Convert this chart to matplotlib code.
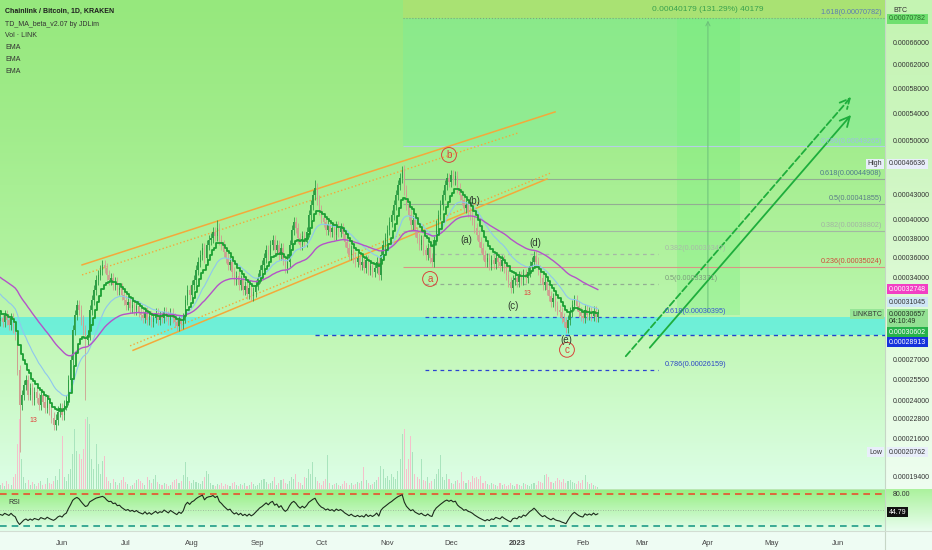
import numpy as np
import pandas as pd
import matplotlib
matplotlib.use("Agg")
import matplotlib.pyplot as plt
from matplotlib.patches import Rectangle
from matplotlib.lines import Line2D
from matplotlib.ticker import NullLocator
from datetime import date

plt.rcParams["font.family"] = ["Liberation Sans", "DejaVu Sans"]

W, H = 932, 550
SAT = 1e-8
start = date(2022, 5, 3)

# daily closes LINK/BTC in satoshi, 2022-05-03 .. 2023-02-08
close_sats = [
    30340, 29990, 30600, 30160, 29740, 30340, 29490, 28910,
    26190, 23730, 24410, 25110,
    25470, 24410, 24900, 24070, 24620,
    24200, 23730, 24410, 23940, 23530, 24070, 23400, 22880,
    22430, 22750, 23270, 23530, 23070, 23730, 24070,
    25470, 26950, 29320, 30600, 31470, 31030, 30160, 29320, 28510,
    28910, 31030, 31920, 32830, 33770, 34250, 34740, 35230, 34930, 34250,
    33770, 33960, 33300, 33580, 32830, 33020,
    32370, 31920, 31470, 31740, 31200, 31470, 31030, 31380, 30860,
    30600, 30340, 30860, 30160, 30510, 29990, 30340, 30690, 30160, 30510,
    30340, 30860, 30510, 30160, 30690, 30340, 29990, 29660, 30160, 29820,
    30340, 31920, 32830, 32370, 33300,
    33770, 34740, 35530, 36230, 36960, 35930, 37270, 37800,
    38010, 38670, 38230, 39110, 37800,
    37270, 36540, 35930, 35230, 35530, 34540, 33770, 34150,
    33300, 33770, 32830, 33210, 32460, 33020, 32280, 32650,
    33300, 33960, 34740, 35230, 35930, 36750, 36230, 37270,
    37800, 36750, 37270, 36230, 36960, 35730, 34930, 35530,
    37270, 38890, 39780, 39110, 38010, 37270, 38230, 37590, 38670,
    40570, 41730, 42930, 43790, 42320, 41150, 40230,
    39780, 38890, 39440, 38670, 39110, 38340, 39330, 38670, 39110, 38450,
    37590, 36960, 36230, 36750, 35930, 35530,
    35930, 35230, 35530, 34930, 35730, 34740, 35130, 34540, 34930, 35530, 34250,
    36230, 37270, 38010, 38890, 39780, 40570,
    41730, 42930, 44160, 45030, 46070, 43540,
    41730, 40570, 39440, 40000, 38670,
    38010, 37270, 37800, 36750, 36230, 36960, 35930, 35530,
    37800, 39440, 40570, 41730, 42930,
    44160, 45030, 44530, 45420, 44780, 45290, 43790,
    42930, 42320, 41380, 41730, 40910,
    40570, 40000, 39110, 38340, 37590,
    36960, 36230, 35530, 35930, 35230,
    35730, 35330, 35930, 35530, 35130, 35730,
    34930, 34250, 33580, 33020, 33770,
    33960, 33580, 34150, 33770, 34350, 33960, 34540, 35130,
    35530, 36130, 35530,
    34740, 33960, 33300, 33580,
    32830, 32280, 31740, 32100, 31380, 31030, 30860,
    30340, 29990, 29490, 30160,
    30860, 31470, 31920, 31380,
    30860, 30510, 30340, 31030, 30600,
    30860, 30510, 30950, 30430, 30657,
]
first_open = 30100
# wick extremes that stand out
low_fix = {9: 20762, 40: 24070}
high_fix = {102: 40000, 148: 44780, 189: 46636}

# volume (thousand LINK, arbitrary scale)
vol_k = [
    40, 60, 30, 80, 50, 40, 120, 150, 450, 700,
    300, 120, 60, 90, 40, 70, 50, 30, 60, 80,
    40, 50, 110, 60, 50, 80, 130, 90, 200, 530,
    120, 80, 150, 200, 350, 600, 380, 350, 300, 400,
    700, 720, 650, 300, 200, 450, 250, 150, 280, 330,
    120, 80, 60, 100, 70, 40, 60, 90, 120, 70,
    50, 30, 40, 60, 90, 100, 80, 60, 40, 120,
    90, 60, 100, 140, 70, 50, 40, 60, 50, 30,
    40, 70, 90, 100, 60, 80, 140, 270, 120, 80,
    60, 90, 70, 60, 50, 80, 120, 180, 150, 60,
    40, 30, 50, 40, 60, 30, 50, 40, 30, 60,
    70, 40, 30, 50, 40, 60, 30, 40, 70, 50,
    30, 40, 60, 90, 100, 70, 50, 60, 80, 120,
    40, 60, 90, 100, 60, 50, 80, 120, 100, 150,
    70, 60, 40, 120, 110, 200, 150, 270, 120, 80,
    60, 40, 80, 100, 340, 60, 40, 50, 60, 40,
    30, 50, 80, 60, 40, 60, 40, 50, 70, 60,
    80, 220, 90, 60, 40, 50, 70, 90, 120, 230,
    200, 110, 130, 90, 150, 120, 100, 180, 300, 550,
    600, 200, 300, 530, 370, 150, 120, 100, 300, 90,
    80, 120, 60, 80, 100, 150, 200, 340, 120, 90,
    150, 100, 60, 50, 80, 90, 60, 170, 80, 60,
    90, 70, 130, 110, 120, 100, 130, 60, 80, 50,
    40, 60, 50, 40, 30, 60, 40, 50, 30, 40,
    60, 40, 30, 50, 40, 30, 60, 50, 40, 30,
    50, 60, 40, 80, 70, 60, 140, 150, 120, 70,
    60, 80, 110, 90, 70, 100, 60, 80, 90, 70,
    60, 50, 80, 60, 90, 140, 70, 50, 60, 40,
    30, 20,
]

# EMA values at the left edge of the chart (history before the window)
seed_green, seed_blue, seed_purple = 31030, 32650, 34150
rsi_seed_gain, rsi_seed_loss = 300, 450

# channel lines: (day, sats) -> (day, sats)
chan_upper = ((38.4, 35230), (260.9, 54270))
chan_upper_dot = ((38.4, 34250), (243.5, 51140))
chan_lower = ((62.4, 27680), (257.1, 44910))
chan_lower_dot = ((61.0, 28030), (258.5, 45640))

# fib extension (right side)
fib1_start = 189.4
fib1_levels = [70782, 49265, 44908, 41855, 38802, 35024]
fib1_names = ["1.618", "0.786", "0.618", "0.5", "0.382", "0.236"]
fib1_line = ["#7fa878", "#b4cfe6", "#93ad93", "#93ad93", "#a3b8a3", "#d99585"]
fib1_text = ["#5b7db3", "#9fbde6", "#4e7b8c", "#5a7a88", "#a3b4a3", "#d04a3a"]
fib2_range = (199.7, 309.3)
fib2_levels = [36347, 33371, 30395, 26159]
fib2_names = ["0.382", "0.5", "0.618", "0.786"]
fib2_line = ["#a6b8a6", "#93ad93", "#3150d0", "#2b44d0"]
fib2_text = ["#a8baa8", "#7d9d7d", "#3a58cf", "#2c46c4"]
zero_level, zero_start = 28913, 148.0

# price range tool
meas_days = (318.3, 347.9)
meas_line_day = 332.8
meas_from, meas_to = 30603, 70782

# wave labels
wave_text = ["b", "a", "c", "(a)", "(b)", "(c)", "(d)", "(e)"]
wave_circ = [True, True, True, False, False, False, False, False]
wave_days = [211.0, 202.1, 266.5, 219.0, 222.8, 241.1, 251.5, 266.0]
wave_sats = [48060, 33860, 27720, 37800, 42200, 31370, 37480, 28510]
td13_days = [15.3, 247.7]
td13_sats = [22690, 32460]

arrow_solid = ((304.6, 27720), (401.0, 54120))
arrow_dashed = ((293.3, 27060), (401.0, 56940))

price_ticks = [66000, 62000, 58000, 54000, 50000, 43000, 40000, 38000, 36000,
               34000, 27000, 25500, 24000, 22800, 21600, 19400]
month_labels = ["Jun", "Jul", "Aug", "Sep", "Oct", "Nov", "Dec", "2023",
                "Feb", "Mar", "Apr", "May", "Jun"]
month_dates = [date(2022, 6, 1), date(2022, 7, 1), date(2022, 8, 1), date(2022, 9, 1),
               date(2022, 10, 1), date(2022, 11, 1), date(2022, 12, 1), date(2023, 1, 1),
               date(2023, 2, 1), date(2023, 3, 1), date(2023, 4, 1), date(2023, 5, 1),
               date(2023, 6, 1)]

legend_lines = ["TD_MA_beta_v2.07 by JDLim", "Vol \u00b7 LINK", "EMA", "EMA", "EMA"]


def fx(px):
    return px / W


def fy(py):
    return 1 - py / H


def ema(vals, span, seed):
    s = pd.Series(np.r_[seed, vals])
    return s.ewm(span=span, adjust=False).mean().to_numpy()[1:]


# ---- data prep
c = np.array(close_sats, float)
n = len(c)
days = np.arange(n)
o = np.r_[first_open, c[:-1]]
hi = np.maximum(o, c) * 1.015
lo = np.minimum(o, c) * 0.985
for k, v in low_fix.items():
    lo[k] = v
for k, v in high_fix.items():
    hi[k] = v
up = c >= o

green = ema(c, 9, seed_green)
blue = ema(c, 20, seed_blue)
purple = ema(c, 50, seed_purple)

ag, al = rsi_seed_gain, rsi_seed_loss
rsi = []
prev = first_open
for v in c:
    d = v - prev
    ag = (ag * 13 + max(d, 0)) / 14
    al = (al * 13 + max(-d, 0)) / 14
    rsi.append(100 - 100 / (1 + ag / al))
    prev = v
rsi = np.array(rsi)

# ---- figure + background
fig = plt.figure(figsize=(W / 100, H / 100), dpi=100)

bg = np.zeros((H, W, 3))
rows = np.arange(H)


def grad(ys, cols, r):
    cols = np.array(cols, float)
    return np.stack([np.interp(r, ys, cols[:, i]) for i in range(3)], axis=1)


r_main = rows[:489]
r_rsi = rows[489:531]
bg[:489, :885] = grad([0, 120, 250, 350, 420, 489],
                      [(150, 232, 125), (160, 236, 138), (176, 242, 158),
                       (196, 248, 186), (208, 251, 208), (222, 254, 232)], r_main)[:, None, :]
bg[:489, 885:] = grad([0, 150, 300, 489],
                      [(196, 244, 178), (205, 246, 192), (222, 250, 215), (238, 254, 240)],
                      r_main)[:, None, :]
bg[489:531, :885] = grad([489, 531], [(150, 238, 130), (228, 254, 238)], r_rsi)[:, None, :]
bg[489:531, 885:] = grad([489, 531], [(172, 242, 158), (234, 254, 240)], r_rsi)[:, None, :]
bg[531:] = (238, 252, 243)

ax_bg = fig.add_axes([0, 0, 1, 1], zorder=0)
ax_bg.imshow(bg / 255, aspect="auto", extent=(0, W, H, 0), interpolation="bilinear")
ax_bg.axis("off")

main_rect = [0, fy(489), fx(885), 489 / H]
ax_vol = fig.add_axes(main_rect, zorder=1)
ax = fig.add_axes(main_rect, zorder=2)
ax_rsi = fig.add_axes([0, fy(531), fx(885), 42 / H], zorder=2)

xlim = (-0.19, 416.1)
x_end = xlim[1]

# ---- volume
vol = np.array(vol_k, float)
ax_vol.bar(days[up], vol[up], width=0.5, color="#a9e4bd", linewidth=0)
ax_vol.bar(days[~up], vol[~up], width=0.5, color="#f4c0cb", linewidth=0)
ax_vol.set_xlim(xlim)
ax_vol.set_ylim(0, 4890)
ax_vol.axis("off")

# ---- main price panel
ax.set_yscale("log")
ax.set_xlim(xlim)
ax.set_ylim(18710 * SAT, 74440 * SAT)
ax.patch.set_visible(False)
for s in ax.spines.values():
    s.set_visible(False)

top = 74440 * SAT
# zones
ax.axhspan(zero_level * SAT, fib2_levels[2] * SAT, color="#66efdc", alpha=0.9, lw=0, zorder=1)
ax.add_patch(Rectangle((fib1_start, meas_to * SAT), x_end - fib1_start, top - meas_to * SAT,
                       color="#b0e070", alpha=0.75, lw=0, zorder=1))
ax.add_patch(Rectangle((fib1_start, fib1_levels[1] * SAT), x_end - fib1_start,
                       (fib1_levels[0] - fib1_levels[1]) * SAT,
                       color="#6eeea5", alpha=0.3, lw=0, zorder=1))
ax.add_patch(Rectangle((meas_days[0], meas_from * SAT), meas_days[1] - meas_days[0],
                       (meas_to - meas_from) * SAT, color="#6ff07a", alpha=0.3, lw=0, zorder=1))

# fib set 1
for lv, nm, lc, tc in zip(fib1_levels, fib1_names, fib1_line, fib1_text):
    ls = ":" if nm == "1.618" else "-"
    ax.hlines(lv * SAT, fib1_start, x_end, color=lc, lw=0.8, linestyles=ls, zorder=2)
    ax.annotate(f"{nm}({lv * SAT:.8f})", (414.7, lv * SAT), xytext=(0, 1.2),
                textcoords="offset points", ha="right", va="bottom", fontsize=5.2, color=tc, zorder=6)
# fib set 2
for lv, nm, lc, tc in zip(fib2_levels, fib2_names, fib2_line, fib2_text):
    ax.hlines(lv * SAT, fib2_range[0], fib2_range[1], color=lc, lw=0.9,
              linestyles=(0, (3, 3)), zorder=2)
    ax.annotate(f"{nm}({lv * SAT:.8f})", (312.6, lv * SAT), xytext=(0, 1.5),
                textcoords="offset points", ha="left", va="bottom", fontsize=5.2, color=tc, zorder=6)
ax.hlines(zero_level * SAT, zero_start, x_end, color="#2343cc", lw=1.0,
          linestyles=(0, (3, 3)), zorder=2)

# price range tool
ax.annotate("", xy=(meas_line_day, meas_to * SAT), xytext=(meas_line_day, meas_from * SAT),
            arrowprops=dict(arrowstyle="->,head_length=0.3,head_width=0.15",
                            color="#6cc07a", lw=0.7), zorder=2)
ax.text(meas_line_day, 72390 * SAT,
        f"{(meas_to - meas_from) * SAT:.8f} (131.29%) {meas_to - meas_from}",
        ha="center", va="center", fontsize=6, color="#3aa24e", zorder=6)

# channel
orange = "#f4a93a"
for (p0, p1), ls, lw in [(chan_upper, "-", 1.1), (chan_upper_dot, ":", 1.0),
                         (chan_lower, "-", 1.1), (chan_lower_dot, ":", 1.0)]:
    ax.plot([p0[0], p1[0]], [p0[1] * SAT, p1[1] * SAT], color=orange, lw=lw, ls=ls, zorder=3)

# candles
up_col, dn_col = "#2e9e44", "#cf9e90"
for m, col in [(up, up_col), (~up, dn_col)]:
    ax.vlines(days[m], lo[m] * SAT, hi[m] * SAT, color=col, lw=0.6, zorder=3)
    bot = np.minimum(o, c)[m]
    hgt = np.maximum(np.abs(c - o)[m], bot * 0.004)
    ax.bar(days[m], hgt * SAT, bottom=bot * SAT, width=0.62, color=col, lw=0, zorder=3)

# moving averages
ax.plot(days, blue * SAT, color="#8fc6ee", lw=0.8, zorder=4)
ax.plot(days, purple * SAT, color="#b453c8", lw=1.0, zorder=4)
ax.plot(days, green * SAT, color="#1c9f34", lw=1.3, drawstyle="steps-mid", zorder=4)

# wave labels
for t, circ, d, p in zip(wave_text, wave_circ, wave_days, wave_sats):
    if circ:
        ax.text(d, p * SAT, t, ha="center", va="center", fontsize=7, color="#d8453c", zorder=6,
                bbox=dict(boxstyle="circle,pad=0.25", fc="none", ec="#d8453c", lw=0.7))
    else:
        ax.text(d, p * SAT, t, ha="center", va="center", fontsize=7, color="#2f3a2f", zorder=6)
for d, p in zip(td13_days, td13_sats):
    ax.text(d, p * SAT, "13", ha="center", va="center", fontsize=5, color="#e0403a", zorder=6)

# forecast arrows
arrow_green = "#1eae3c"
for (p0, p1), ls in [(arrow_solid, "-"), (arrow_dashed, "--")]:
    ax.annotate("", xy=(p1[0], p1[1] * SAT), xytext=(p0[0], p0[1] * SAT),
                arrowprops=dict(arrowstyle="->,head_length=0.7,head_width=0.35",
                                color=arrow_green, lw=1.3, linestyle=ls), zorder=5)

# price axis
ax.yaxis.tick_right()
ax.set_yticks([t * SAT for t in price_ticks])
ax.set_yticklabels([f"{t * SAT:.8f}" for t in price_ticks])
ax.yaxis.set_minor_locator(NullLocator())
ax.tick_params(axis="y", length=0, pad=5.5, labelsize=5, labelcolor="#333333")
ax.set_xticks([])

# ---- RSI panel
ax_rsi.set_xlim(xlim)
ax_rsi.set_ylim(10.6, 89.4)
ax_rsi.patch.set_visible(False)
for s in ax_rsi.spines.values():
    s.set_visible(False)
ax_rsi.axhline(80, color="#e8502e", lw=1.2, ls=(0, (4, 3)))
ax_rsi.axhline(50, color="#9aaa9a", lw=0.6, ls=(0, (1, 2)))
ax_rsi.axhline(20, color="#1f9c88", lw=1.2, ls=(0, (4, 3)))
ax_rsi.plot(days, rsi, color="#1d2b1d", lw=0.8)
ax_rsi.set_yticks([])
month_pos = [(m - start).days for m in month_dates]
ax_rsi.set_xticks(month_pos)
ax_rsi.set_xticklabels(month_labels)
ax_rsi.tick_params(axis="x", length=0, pad=6.5, labelsize=5.5, labelcolor="#444444")
for lbl in ax_rsi.get_xticklabels():
    if lbl.get_text() == "2023":
        lbl.set_fontweight("bold")

# ---- overlay texts
fig.text(fx(5), fy(11.7), "Chainlink / Bitcoin, 1D, KRAKEN", fontsize=5, fontweight="bold",
         color="#1e1e1e", va="center")
for i, t in enumerate(legend_lines):
    fig.text(fx(5), fy(24 + 11.8 * i), t, fontsize=5, color="#333333", va="center")
fig.text(fx(8), fy(502), "RSI", fontsize=5, color="#333333", va="center")
fig.text(fx(893), fy(10), "BTC", fontsize=5, color="#333333", va="center")
fig.text(fx(893), fy(494), "80.00", fontsize=5, color="#333333", va="center")

axis_boxes = [
    ("0.00070782", 19, "#6fe06f", "#2a6a2a"),
    ("0.00046636", 164, "#e8eefa", "#333333"),
    ("0.00032748", 289, "#f23fc4", "white"),
    ("0.00031045", 302, "#cfe6f6", "#333333"),
    ("0.00030657\n04:10:49", 318, "#92e092", "#223322"),
    ("0.00030602", 332, "#26b34a", "white"),
    ("0.00028913", 342, "#1432dc", "white"),
    ("0.00020762", 452, "#e8eefa", "#333333"),
    ("44.79", 512, "#111111", "white"),
]
for t, y, fc, tc in axis_boxes:
    fig.text(fx(889), fy(y), t, fontsize=5, color=tc, va="center", ha="left", linespacing=1.1,
             bbox=dict(boxstyle="square,pad=0.25", fc=fc, ec="none"))
side_tags = [("High", 164, "#e8eefa"), ("Low", 452, "#e8eefa"), ("LINKBTC", 314, "#96e596")]
for t, y, fc in side_tags:
    fig.text(fx(882), fy(y), t, fontsize=5, color="#333333", va="center", ha="right",
             bbox=dict(boxstyle="square,pad=0.25", fc=fc, ec="none"))

fig.add_artist(Line2D([fx(885)] * 2, [0, 1], transform=fig.transFigure, color="#c6d6c6", lw=0.8))
fig.add_artist(Line2D([0, 1], [fy(531)] * 2, transform=fig.transFigure, color="#d2ddd2", lw=0.8))
fig.add_artist(Line2D([0, fx(885)], [fy(489)] * 2, transform=fig.transFigure, color="#c2e6bc", lw=0.6))

fig.savefig("out.png", dpi=100)
